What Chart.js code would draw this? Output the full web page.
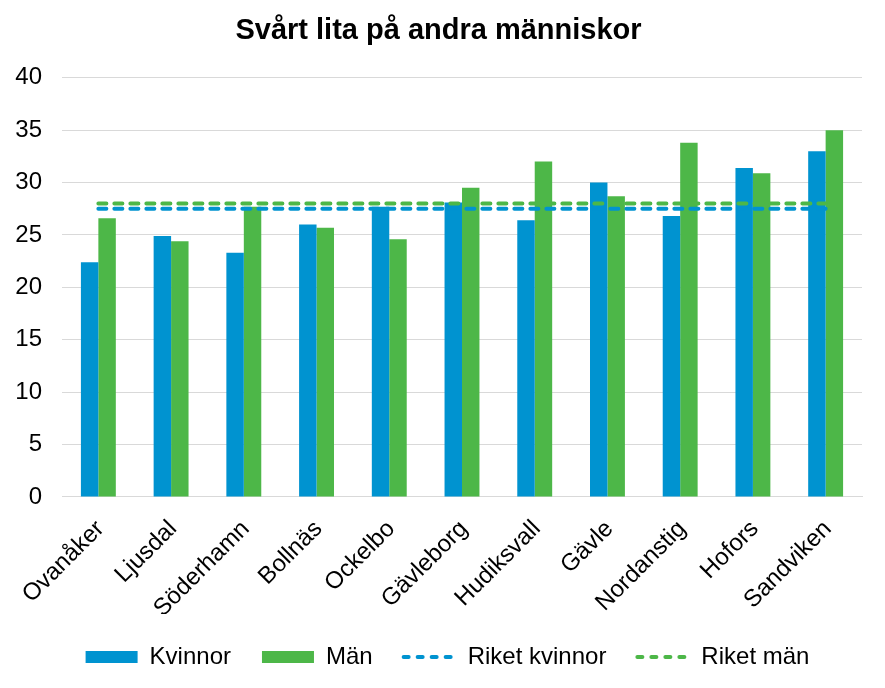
<!DOCTYPE html>
<html>
<head>
<meta charset="utf-8">
<script src="https://cdn.jsdelivr.net/npm/chart.js@4"></script>
<style>
  html, body { margin: 0; padding: 0; background: #fff; }
  #wrap { width: 885px; height: 688px; }
</style>
</head>
<body>
<div id="wrap"><canvas id="chart"></canvas></div>
<script>
// Data
const kommuner = ['Ovanåker', 'Ljusdal', 'Söderhamn', 'Bollnäs', 'Ockelbo', 'Gävleborg',
    'Hudiksvall', 'Gävle', 'Nordanstig', 'Hofors', 'Sandviken'];
const kvinnor = [22.4, 24.9, 23.3, 26.0, 27.7, 28.1, 26.4, 30.0, 26.8, 31.4, 33.0];
const man = [26.6, 24.4, 27.7, 25.7, 24.6, 29.5, 32.0, 28.7, 33.8, 30.9, 35.0];
const riketKvinnor = [27.5, 27.5, 27.5, 27.5, 27.5, 27.5, 27.5, 27.5, 27.5, 27.5, 27.5];
const riketMan = [28.0, 28.0, 28.0, 28.0, 28.0, 28.0, 28.0, 28.0, 28.0, 28.0, 28.0];

const BLA = '#0093D0';
const GRON = '#4DB748';
const font = 'Liberation Sans, Arial, sans-serif';

Chart.defaults.font.family = font;
Chart.defaults.color = '#000';

const linje = (label, data, farg) => ({
    type: 'line',
    label: label,
    data: data,
    borderColor: farg,
    backgroundColor: farg,
    borderWidth: 4,
    borderDash: [8, 8],
    borderCapStyle: 'round',
    pointRadius: 0,
    pointStyle: 'line',
    fill: false,
    order: -1
});

// standardlegenden tappar streckningen när pointStyle används
const legendEtiketter = (chart) => {
    const items = Chart.defaults.plugins.legend.labels.generateLabels(chart);
    items.forEach(item => {
        const ds = chart.data.datasets[item.datasetIndex];
        if (ds.type === 'line') {
            item.lineDash = [5, 9];
            item.lineCap = 'round';
            item.lineWidth = 4;
            item.strokeStyle = ds.borderColor;
        }
    });
    return items;
};

// legenden sitter lite till höger om mitten i originalet
const flyttaLegend = {
    id: 'flyttaLegend',
    afterLayout(chart) {
        chart.legend.left += 9;
        chart.legend.right += 9;
    }
};

new Chart(document.getElementById('chart'), {
    type: 'bar',
    data: {
        labels: kommuner,
        datasets: [
            { label: 'Kvinnor', data: kvinnor, backgroundColor: BLA, pointStyle: 'rect' },
            { label: 'Män', data: man, backgroundColor: GRON, pointStyle: 'rect' },
            linje('Riket kvinnor', riketKvinnor, BLA),
            linje('Riket män', riketMan, GRON)
        ]
    },
    plugins: [flyttaLegend],
    options: {
        responsive: true,
        maintainAspectRatio: false,
        animation: false,
        layout: { padding: { left: 15, right: 23, top: 10, bottom: 9 } },
        datasets: {
            bar: { categoryPercentage: 0.48, barPercentage: 1 }
        },
        scales: {
            x: {
                grid: { display: false, drawTicks: false },
                border: { display: true, color: '#d9d9d9', width: 1 },
                ticks: {
                    font: { size: 24 },
                    minRotation: 45,
                    maxRotation: 45,
                    padding: 18,
                    labelOffset: 2
                },
                // första etiketten får sticka ut åt vänster som i Excel
                afterFit: (scale) => {
                    scale.paddingLeft = 0;
                    scale.height -= 27;
                }
            },
            y: {
                min: 0,
                max: 40,
                ticks: { stepSize: 5, font: { size: 24 }, padding: 20 },
                grid: { color: '#d9d9d9', drawTicks: false },
                border: { display: false },
                // fit() räknar padding dubbelt
                afterFit: (scale) => { scale.width = 47; }
            }
        },
        plugins: {
            title: {
                display: true,
                text: 'Svårt lita på andra människor',
                font: { size: 29, weight: 'bold' },
                color: '#000',
                padding: { top: 4, bottom: 29 }
            },
            legend: {
                position: 'bottom',
                labels: {
                    font: { size: 24 },
                    usePointStyle: true,
                    pointStyleWidth: 52,
                    boxWidth: 52,
                    boxHeight: 12,
                    padding: 31,
                    generateLabels: legendEtiketter,
                    sort: (a, b) => a.datasetIndex - b.datasetIndex
                }
            },
            tooltip: { enabled: false }
        }
    }
});
</script>
</body>
</html>
